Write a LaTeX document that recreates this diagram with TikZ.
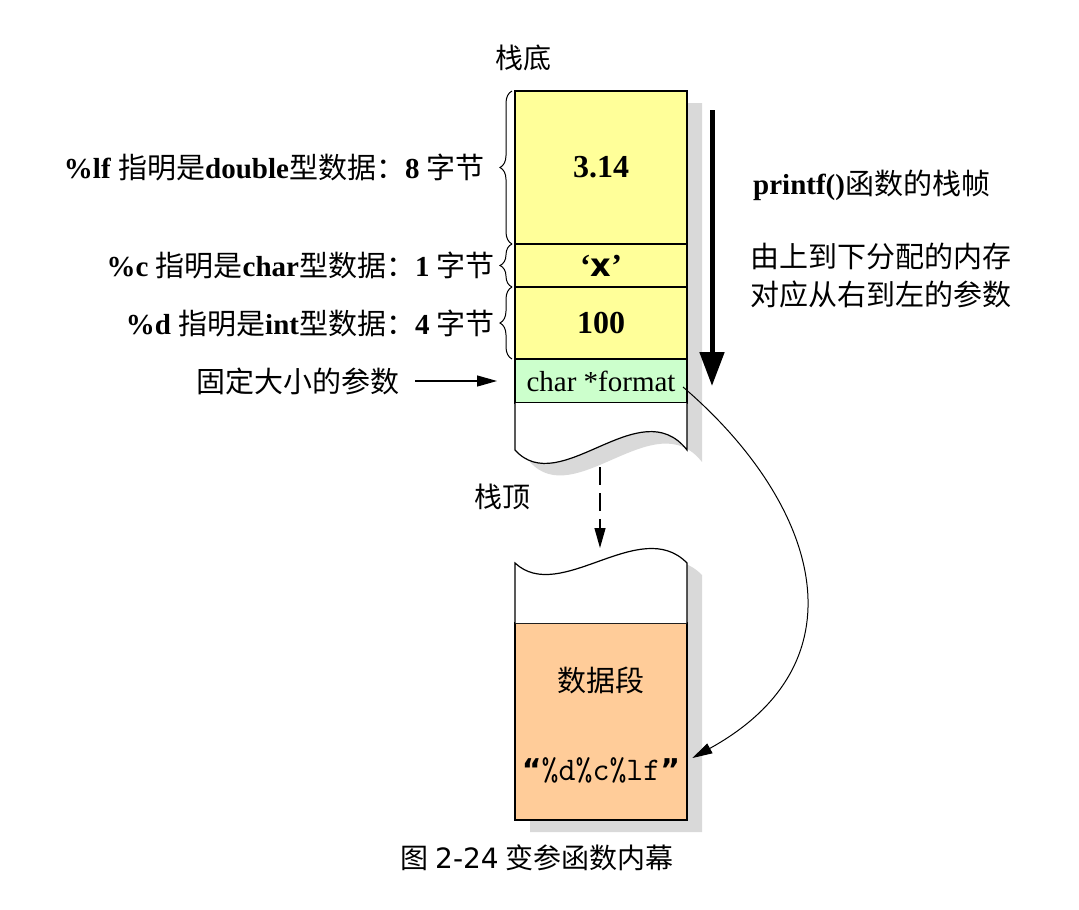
\documentclass[tikz,border=0pt]{standalone}
\usepackage{fontspec}
\setmainfont{Liberation Serif}
\newfontfamily\cjk{Noto Sans CJK SC}
\newfontfamily\sansfont{DejaVu Sans}
\usetikzlibrary{positioning,arrows.meta,decorations.pathreplacing,calc}
\definecolor{cellyellow}{RGB}{255,255,153}
\definecolor{cellgreen}{RGB}{204,255,204}
\definecolor{cellorange}{RGB}{255,204,153}
\definecolor{shadowgray}{RGB}{217,217,217}
\newcommand{\zh}[1]{{\cjk #1}}
\tikzset{
  cell/.style   = {draw, line width=1.2pt, minimum width=172pt, inner sep=0pt, outer sep=0pt, font=\fontsize{32}{36}\selectfont},
  lbl/.style    = {inner sep=0pt, font=\fontsize{29}{34}\selectfont},
  brc/.style    = {decorate, decoration={brace, amplitude=12pt}, line width=1pt},
  flow/.style   = {-{Triangle[length=20pt,width=11pt]}, line width=1.2pt},
}
\begin{document}
\begin{tikzpicture}[x=1pt,y=-1pt]
  \fill[white] (0,0) rectangle (1079,910);
  \useasboundingbox (0,0) rectangle (1079,910);
  % shadows
  \fill[shadowgray, shift={(15,12)}] (515,91) -- (687,91) -- (687,450) .. controls (640,390) and (560,500) .. (515,450) -- cycle;
  \fill[shadowgray, shift={(15,12)}] (515,563) .. controls (560,605) and (640,515) .. (687,563) -- (687,820) -- (515,820) -- cycle;
  % stack frame
  \node[cell, fill=cellyellow, minimum height=153pt] (dbl) at (601,167.5) {\bfseries 3.14};
  \node[cell, fill=cellyellow, minimum height=43pt, below=0pt of dbl] (chr) {\bfseries ‘{\sansfont x}’};
  \node[cell, fill=cellyellow, minimum height=72pt, below=0pt of chr] (int) {\bfseries 100};
  \node[cell, fill=cellgreen, minimum height=44pt, below=0pt of int, font=\fontsize{29}{34}\selectfont] (fmt) {char *format};
  \draw[line width=1.2pt, fill=white] (fmt.south west) -- (515,450) .. controls (560,500) and (640,390) .. (687,450) -- (fmt.south east);
  % data segment
  \node[cell, fill=cellorange, minimum height=197pt] (seg) at (601,721.5) {};
  \draw[line width=1.2pt, fill=white] (seg.north west) -- (515,563) .. controls (560,605) and (640,515) .. (687,563) -- (seg.north east);
  \node[lbl] (segname) at (601,680) {\zh{数据段}};
  \node[lbl, font=\fontsize{30}{34}\selectfont] (fmtstr) at (601,770) {{\sansfont\bfseries “}{\ttfamily\fontsize{33}{36}\selectfont\%d\%c\%lf}{\sansfont\bfseries ”}};
  % labels
  \node[lbl, font=\fontsize{28}{32}\selectfont] (stackbot) at (523,58) {\zh{栈底}};
  \node[lbl, font=\fontsize{28}{32}\selectfont] (stacktop) at (502,497) {\zh{栈顶}};
  \node[lbl, left=30pt of dbl.west] (lbldbl) {\textbf{\%lf} \zh{指明是}\textbf{double}\zh{型数据：}\textbf{8} \zh{字节}};
  \node[lbl, left=20pt of chr.west] (lblchr) {\textbf{\%c} \zh{指明是}\textbf{char}\zh{型数据：}\textbf{1} \zh{字节}};
  \node[lbl, left=20pt of int.west] (lblint) {\textbf{\%d} \zh{指明是}\textbf{int}\zh{型数据：}\textbf{4} \zh{字节}};
  \node[lbl, left=115pt of fmt.west] (lblfix) {\zh{固定大小的参数}};
  \node[lbl, anchor=west] (frame) at (753,185) {\textbf{printf()}\zh{函数的栈帧}};
  \node[lbl, anchor=west, align=left, font=\fontsize{29}{38}\selectfont] (order) at (750,276) {\zh{由上到下分配的内存}\\\zh{对应从右到左的参数}};
  \node[lbl, font=\fontsize{28}{32}\selectfont] (caption) at (537,858) {\zh{图} {\sansfont 2-24} \zh{变参函数内幕}};
  % braces
  \draw[brc] ([xshift=-3pt]dbl.south west) -- ([xshift=-3pt]dbl.north west);
  \draw[brc] ([xshift=-3pt]chr.south west) -- ([xshift=-3pt]chr.north west);
  \draw[brc] ([xshift=-3pt]int.south west) -- ([xshift=-3pt]int.north west);
  % arrows
  \coordinate (alloctop) at (712,110);
  \coordinate (allocbot) at (712,386);
  \draw[-{Triangle[length=34pt,width=24pt]}, line width=5pt] (alloctop) -- (allocbot);
  \draw[flow] ([xshift=15pt]lblfix.east) -- ([xshift=-18pt]fmt.west);
  \coordinate (gaptop) at (600,467);
  \coordinate (gapbot) at (600,548);
  \draw[flow, dash pattern=on 18pt off 8pt] (gaptop) -- (gapbot);
  \coordinate (ptr) at (683,387);
  \draw[flow, line width=1pt] (ptr) .. controls (815,500) and (870,660) .. ($(fmtstr.east)+(12,-12)$);
\end{tikzpicture}
\end{document}
